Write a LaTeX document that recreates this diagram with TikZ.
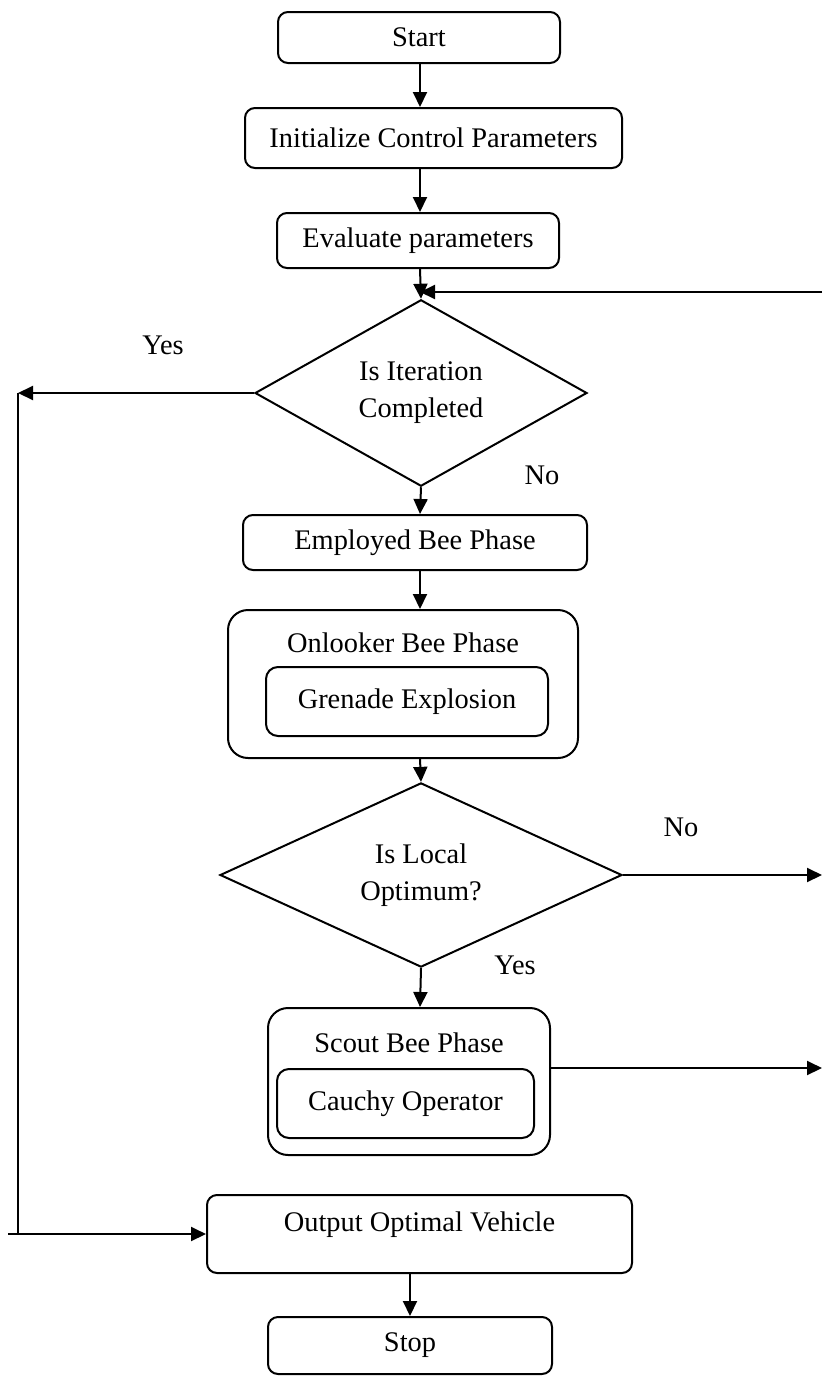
\documentclass[tikz,border=0pt]{standalone}
\usepackage{fontspec}
\setmainfont{Liberation Serif}
\usetikzlibrary{shapes.geometric,arrows.meta}

\tikzset{
  box/.style={draw, line width=1pt, rounded corners=5pt, inner sep=0pt},
  bigbox/.style={box, rounded corners=10pt},
  smallbox/.style={box, rounded corners=6pt},
  decision/.style={draw, line width=1pt, shape=diamond, inner sep=0pt, align=center},
  arr/.style={line width=1pt, -{Triangle[length=7.5pt,width=7pt]}},
  line/.style={line width=1pt}
}

\begin{document}
\begin{tikzpicture}[x=0.5pt, y=-0.5pt, font=\fontsize{14.2}{18.5}\selectfont]
    \useasboundingbox (0,0) rectangle (824,1376);

    \coordinate (axis) at (420,0);
    \coordinate (fb) at (822,292);
    \coordinate (yl) at (18,393);
    \coordinate (yb) at (8,1234);

    \node [box, minimum width=141pt, minimum height=25.5pt] (start) at (419,37.5) {Start};
    \node [box, minimum width=188.5pt, minimum height=30pt] (init) at (433.5,138) {Initialize Control Parameters};
    \node [box, minimum width=141pt, minimum height=27.5pt] (eval) at (418,240.5) {Evaluate parameters};

    \node [decision, minimum width=166pt, minimum height=77pt] (iter) at (421,393) {Is Iteration\\Completed};
    \node (yes1) at (163,345) {Yes};
    \node (no1) at (542,475) {No};

    \node [box, minimum width=172pt, minimum height=27.5pt] (emp) at (415,542.5) {Employed Bee Phase};

    \node [bigbox, minimum width=175pt, minimum height=74pt] (onl) at (403,684) {};
    \node (onltitle) at (403,643) {Onlooker Bee Phase};
    \node [smallbox, minimum width=141pt, minimum height=34.5pt] (gren) at (407,701.5) {Grenade Explosion};

    \node [decision, minimum width=201pt, minimum height=76pt] (local) at (421,875) {Is Local\\Optimum?};
    \node (no2) at (681,827) {No};
    \node (yes2) at (515,965) {Yes};

    \node [bigbox, minimum width=141pt, minimum height=73.5pt] (scout) at (409,1081.5) {};
    \node (scouttitle) at (409,1043) {Scout Bee Phase};
    \node [smallbox, minimum width=128.5pt, minimum height=34.5pt] (cauchy) at (405.5,1103.5) {Cauchy Operator};

    \node [box, minimum width=212.5pt, minimum height=39pt, text depth=12pt] (out) at (419.5,1234) {Output Optimal Vehicle};
    \node [box, minimum width=142pt, minimum height=28.5pt] (stop) at (410,1345.5) {Stop};

    % main line
    \draw [arr] (start.south -| axis) -- (init.north -| axis);
    \draw [arr] (init.south -| axis) -- (eval.north -| axis);
    \draw [arr] (eval.south -| axis) -- (iter.north);
    \draw [arr] (fb) -- (fb -| axis);
    \draw [arr] (iter.south) -- (emp.north -| axis);
    \draw [arr] (emp.south -| axis) -- (onl.north -| axis);
    \draw [arr] (onl.south -| axis) -- (local.north);
    \draw [arr] (local.south) -- (scout.north -| axis);
    \draw [arr] (out.south -| stop) -- (stop.north);

    % branches
    \draw [arr] (iter.west) -- (yl);
    \draw [line] (yl) -- (yl |- out.west);
    \draw [arr] (yb) -- (out.west);
    \draw [arr] (local.east) -- (local.east -| fb);
    \draw [arr] (scout.east |- cauchy.north) -- (fb |- cauchy.north);
  \end{tikzpicture}
\end{document}
